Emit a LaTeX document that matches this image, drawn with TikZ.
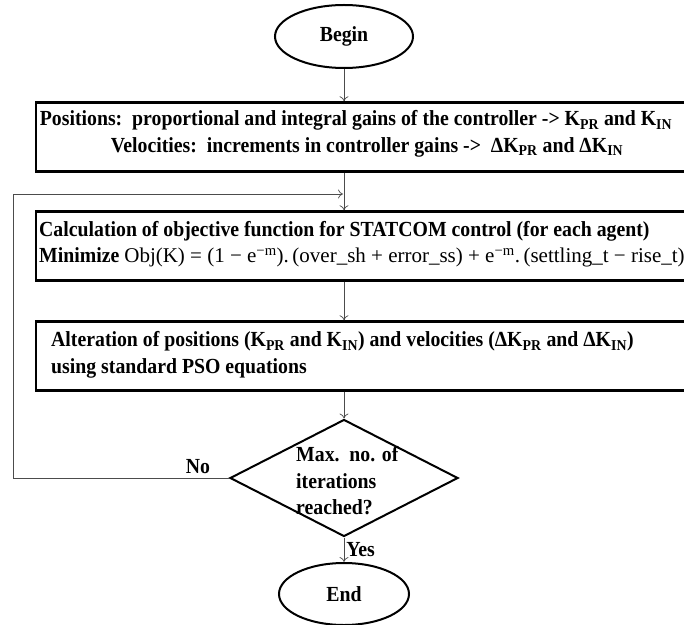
\documentclass[tikz,border=0pt]{standalone}
\usepackage{fontspec}
\setmainfont[FakeStretch=0.92]{Liberation Serif}
\newfontfamily\formfont{Liberation Serif}
\usetikzlibrary{shapes.geometric,arrows.meta}
\newcommand{\lo}[1]{\textsubscript{#1}}
\newcommand{\hi}[1]{\textsuperscript{#1}}
\begin{document}
\begin{tikzpicture}[x=1bp,y=-1bp,
  every node/.style={font=\fontsize{21.5bp}{26.5bp}\selectfont\bfseries},
  term/.style={draw=black,line width=2bp,ellipse,inner sep=0pt},
  procbox/.style={draw=black,line width=2.5bp,minimum width=664bp,minimum height=69bp,inner sep=0pt},
  decision/.style={draw=black,line width=2bp,diamond,inner sep=0pt,minimum width=228bp,minimum height=117bp},
  txt/.style={inner sep=0pt,align=left},
  flow/.style={draw=black!70,line width=0.7bp,-{To[length=5bp,width=9bp]}},
  plain/.style={draw=black!70,line width=0.7bp},
  ]
\useasboundingbox (0,0) rectangle (684,625);

\node[term,minimum width=138bp,minimum height=63bp] (begin) at (344,36.5) {Begin};
\node[procbox] (box1) at (368,137) {};
\node[txt,align=center] (t1) at (356,134) {Positions:\ \ proportional and integral gains of the controller -> K\lo{PR} and K\lo{IN}\\
\hspace*{22bp}Velocities:\ \ increments in controller gains ->\ \ ΔK\lo{PR} and ΔK\lo{IN}};
\node[procbox] (box2) at (368,246) {};
\node[txt,anchor=west] (t2) at (39,244) {Calculation\ of objective function for STATCOM\ control (for each agent)\\
Minimize {\mdseries\formfont\fontsize{21bp}{26.5bp}\selectfont Obj(K) = (1 − e\hi{−m}).\,(over\_sh + error\_ss) + e\hi{−m}.\,(settling\_t − rise\_t)}};
\node[procbox] (box3) at (368,356) {};
\node[txt,anchor=west] (t3) at (51,355) {Alteration\ of positions (K\lo{PR} and K\lo{IN}) and velocities (ΔK\lo{PR} and ΔK\lo{IN})\\
using standard PSO equations};
\node[decision] (dia) at (344,478) {};
\node[txt,anchor=west] (t4) at (296,481) {Max.\ \ no. of\\iterations\\reached?};
\node[term,minimum width=130bp,minimum height=62bp] (end) at (344,594) {End};

\coordinate (loopL) at (13,478);
\coordinate (loopT) at (13,194);
\coordinate (join) at (343,194);

\draw[flow] (begin.south) -- (box1.north -| begin.south);
\draw[flow] (box1.south -| begin.south) -- (box2.north -| begin.south);
\draw[flow] (box2.south -| begin.south) -- (box3.north -| begin.south);
\draw[flow] (box3.south -| begin.south) -- (dia.north);
\draw[flow] (dia.south) -- (end.north) node[pos=0.5,right=2bp,inner sep=0pt] (yes) {Yes};
\draw[plain] (dia.west) -- (loopL) -- (loopT);
\draw[flow] (loopT) -- (join);
\node[inner sep=0pt] (no) at (198,467) {No};
\end{tikzpicture}
\end{document}
